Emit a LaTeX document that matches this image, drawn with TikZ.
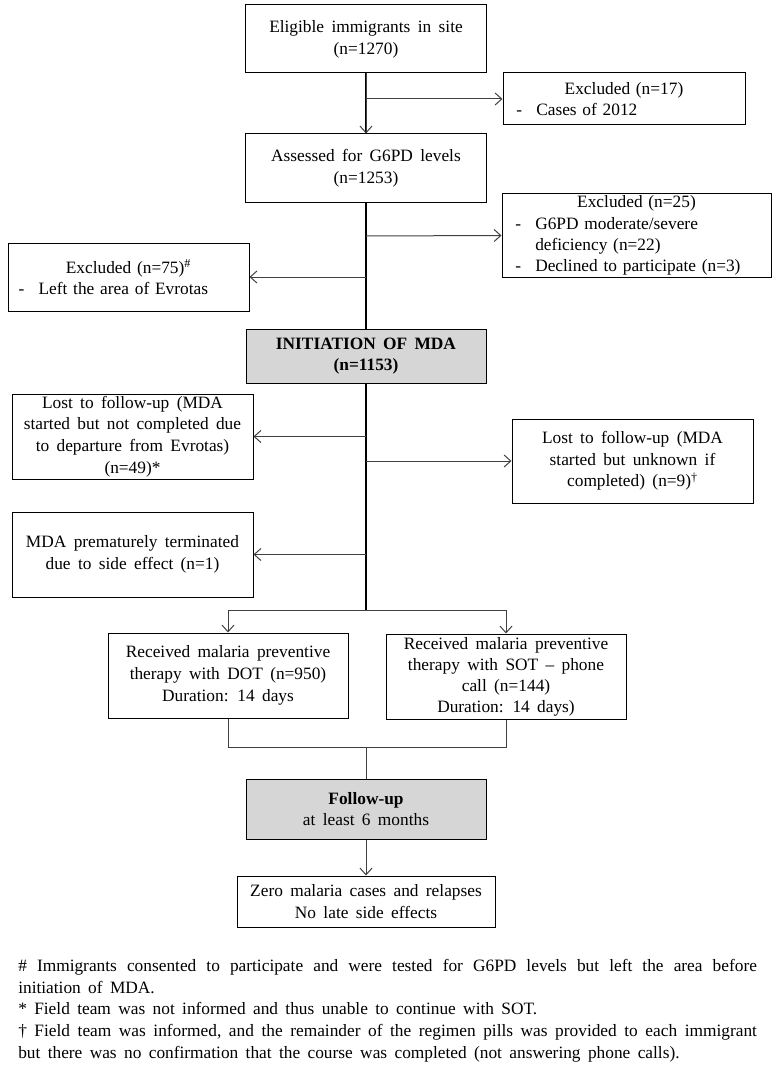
\documentclass[tikz,border=0pt]{standalone}
\usepackage{fontspec}
\setmainfont{Liberation Serif}[WordSpace=1.7]
\usetikzlibrary{arrows.meta}
\newcommand\itm{\makebox[1.15em][l]{-}}
\tikzset{
  box/.style={draw=black, line width=0.75pt, inner sep=1pt, align=center,
    font=\fontsize{13}{16.3}\selectfont},
  graybox/.style={box, fill=black!16},
  listbox/.style={draw=black, line width=0.75pt, inner ysep=0pt, inner xsep=10pt,
    font=\fontsize{13}{16}\selectfont},
  conn/.style={draw=black!75, line width=0.75pt},
  arr/.style={conn, -{Straight Barb[length=5pt,width=9pt]}},
  trunk/.style={draw=black, line width=1.2pt},
}
\begin{document}
\begin{tikzpicture}[x=0.75pt,y=-0.75pt]
\useasboundingbox (0,0) rectangle (775,1066);

\node[box, minimum width=180.75pt, minimum height=51pt] (b1) at (366,39)
  {Eligible immigrants in site\\(n=1270)};
\node[listbox, minimum width=181.5pt, minimum height=39pt, text width=161.5pt] (ex17) at (624,99)
  {{\centering Excluded (n=17)\par}\noindent\itm Cases of 2012};
\node[box, minimum width=180.75pt, minimum height=51.75pt] (b2) at (366,168.5)
  {Assessed for G6PD levels\\(n=1253)};
\node[listbox, minimum width=201.75pt, minimum height=62.25pt, text width=181.75pt] (ex25) at (636.5,235.5)
  {{\centering Excluded (n=25)\par}\noindent\itm G6PD moderate/severe\newline
   \hspace*{1.15em}deficiency (n=22)\newline\itm Declined to participate (n=3)};
\node[listbox, inner xsep=8pt, minimum width=180.75pt, minimum height=51pt, text width=164.75pt] (ex75) at (128.5,277)
  {{\centering Excluded (n=75)\textsuperscript{\#}\par}\noindent\itm Left the area of Evrotas};
\node[graybox, minimum width=180pt, minimum height=40.5pt] (mda) at (366,356)
  {\textbf{INITIATION OF MDA}\\\textbf{(n=1153)}};
\node[box, minimum width=180.75pt, minimum height=63.75pt] (lost49) at (132.5,436.5)
  {Lost to follow-up (MDA\\started but not completed due\\to departure from Evrotas)\\(n=49)*};
\node[box, minimum width=180.75pt, minimum height=63pt] (lost9) at (632.5,461)
  {Lost to follow-up (MDA\\started but unknown if\\completed) (n=9)\textsuperscript{†}};
\node[box, minimum width=180.75pt, minimum height=63.75pt] (prem) at (132.5,554.5)
  {MDA prematurely terminated\\due to side effect (n=1)};
\node[box, minimum width=180pt, minimum height=63.75pt] (dot) at (228,675.5)
  {Received malaria preventive\\therapy with DOT (n=950)\\Duration: 14 days};
\node[box, minimum width=180pt, minimum height=63.75pt, inner ysep=0pt,
  font=\fontsize{13}{15.8}\selectfont] (sot) at (506,676.5)
  {Received malaria preventive\\therapy with SOT -- phone\\call (n=144)\\Duration: 14 days)};
\node[graybox, minimum width=180pt, minimum height=45pt] (fu) at (366,809)
  {\textbf{Follow-up}\\at least 6 months};
\node[box, minimum width=193.5pt, minimum height=38.25pt] (final) at (366,901.5)
  {Zero malaria cases and relapses\\No late side effects};

\coordinate (j1) at (366,99);
\coordinate (j2) at (366,236);
\coordinate (j3) at (366,277);
\coordinate (j4) at (366,436.5);
\coordinate (j5) at (366,461);
\coordinate (j6) at (366,554.5);
\coordinate (j7) at (366,610);
\coordinate (dotin) at (228,610);
\coordinate (sotin) at (506,610);
\coordinate (j8) at (366,747);

\draw[trunk] (b1.south) -- (b2.north);
\draw[arr] (b1.south) -- (b2.north);
\draw[arr] (j1) -- (ex17.west);
\draw[trunk] (b2.south) -- (mda.north);
\draw[arr] (j2) -- (ex25.west);
\draw[arr] (j3) -- (ex75.east);
\draw[trunk] (mda.south) -- (j7);
\draw[arr] (j4) -- (lost49.east);
\draw[arr] (j5) -- (lost9.west);
\draw[arr] (j6) -- (prem.east);
\draw[conn] (dotin) -- (sotin);
\draw[arr] (dotin) -- (dot.north);
\draw[arr] (sotin) -- (sot.north);
\draw[conn] (dot.south) -- (dot.south |- j8) -- (sot.south |- j8) -- (sot.south);
\draw[conn] (j8) -- (fu.north);
\draw[arr] (fu.south) -- (final.north);

\node[anchor=north west, inner sep=0pt, text width=554pt, align=justify,
  font=\fontsize{13}{16.3}\selectfont] (notes) at (18,959)
  {\# Immigrants consented to participate and were tested for G6PD levels but left the area before\linebreak
   initiation of MDA.\par
   * Field team was not informed and thus unable to continue with SOT.\par
   † Field team was informed, and the remainder of the regimen pills was provided to each immigrant\linebreak
   but there was no confirmation that the course was completed (not answering phone calls).};
\end{tikzpicture}
\end{document}
